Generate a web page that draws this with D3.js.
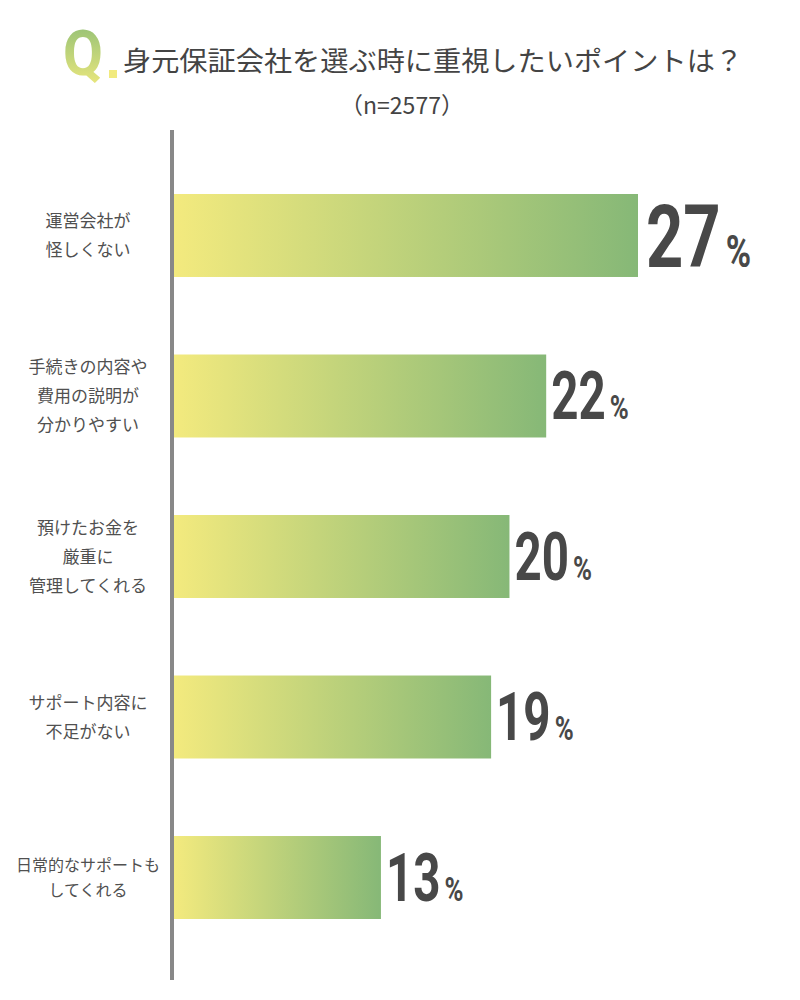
<!DOCTYPE html>
<html><head><meta charset="utf-8">
<script src="https://cdn.jsdelivr.net/npm/d3@7/dist/d3.min.js"></script>
<style>body{margin:0;background:#fff;}svg{display:block;}</style>
</head><body>
<svg id="c" width="800" height="1000"></svg>
<script>
const categories = [
  ["運営会社が","怪しくない"],
  ["手続きの内容や","費用の説明が","分かりやすい"],
  ["預けたお金を","厳重に","管理してくれる"],
  ["サポート内容に","不足がない"],
  ["日常的なサポートも","してくれる"]
];
const values = [27, 22, 20, 19, 13];
const titleText = "身元保証会社を選ぶ時に重視したいポイントは？";
const sampleText = "（n=2577）";

const svg = d3.select("#c");
const jp = "'Noto Sans CJK JP', 'Noto Sans', sans-serif";
const defs = svg.append("defs");

const bg = defs.append("linearGradient").attr("id","barGrad").attr("x1","0").attr("x2","1").attr("y1","0").attr("y2","0");
bg.append("stop").attr("offset","0").attr("stop-color","#f3ea7e");
bg.append("stop").attr("offset","1").attr("stop-color","#86b877");

const qg = defs.append("linearGradient").attr("id","qGrad").attr("x1","0").attr("x2","0").attr("y1","0").attr("y2","1");
qg.append("stop").attr("offset","0").attr("stop-color","#8cbd75");
qg.append("stop").attr("offset","1").attr("stop-color","#f1ea7e");

// Title
svg.append("text").attr("transform","translate(63,75) scale(0.92,1)")
  .attr("font-family","Roboto, sans-serif").attr("font-weight","bold")
  .attr("font-size",63).attr("fill","url(#qGrad)").text("Q");
svg.append("rect").attr("x",109).attr("y",70).attr("width",8).attr("height",8).attr("fill","#f1ea7e");

svg.append("text").attr("x",123).attr("y",71)
  .attr("font-family",jp).attr("font-size",27).attr("fill","#444")
  .attr("textLength",620).attr("lengthAdjust","spacingAndGlyphs")
  .text(titleText);

svg.append("text").attr("x",402).attr("y",114).attr("text-anchor","middle")
  .attr("font-family",jp).attr("font-size",23).attr("fill","#444")
  .text(sampleText);

// Scales
const x0v = 1.73;
const x = d3.scaleLinear().domain([x0v, 27]).range([174, 638]);
const y = d3.scaleBand().domain(d3.range(values.length)).range([194, 919]).paddingInner(0.483).paddingOuter(0);

// Bars
svg.selectAll("rect.bar").data(values).join("rect").attr("class","bar")
  .attr("x", x(x0v)).attr("y",(d,i)=>y(i))
  .attr("width", d=>x(d)-x(x0v)).attr("height", y.bandwidth())
  .attr("fill","url(#barGrad)");

// Axis line
svg.append("line").attr("x1",172).attr("x2",172).attr("y1",130).attr("y2",980)
  .attr("stroke","#888").attr("stroke-width",4);

// Category labels
categories.forEach((lines,i)=>{
  const cy = y(i) + y.bandwidth()/2;
  const lh = i===4 ? 25 : 29;
  const fs = i===4 ? 16 : 17;
  const t = svg.append("text").attr("text-anchor","middle")
    .attr("font-family",jp).attr("font-size",fs).attr("fill","#505050");
  lines.forEach((ln,j)=>{
    t.append("tspan").attr("x", 88)
      .attr("y", cy + (j-(lines.length-1)/2)*lh + fs*0.36)
      .text(ln);
  });
});

// Value labels
values.forEach((v,i)=>{
  const big = i===0;
  const fs = big ? 88 : 66;
  const pfs = big ? 44 : 33;
  const sx = big ? 0.74 : 0.72;
  const cy = y(i) + y.bandwidth()/2;
  const base = cy + fs*0.711/2;
  const xs = x(v) + (big ? 8 : 5);
  const num = svg.append("text").attr("transform",`translate(${xs},${base}) scale(${sx},1)`)
    .attr("font-family","Roboto, sans-serif").attr("font-weight","bold")
    .attr("font-size",fs).attr("fill","#484848").text(String(v));
  const w = num.node().getComputedTextLength()*sx;
  svg.append("text").attr("transform",`translate(${xs+w+(big?5:4)},${base}) scale(0.78,1)`)
    .attr("font-family","Roboto, sans-serif").attr("font-weight","bold")
    .attr("font-size",pfs).attr("fill","#484848").text("%");
});
</script>
</body></html>
